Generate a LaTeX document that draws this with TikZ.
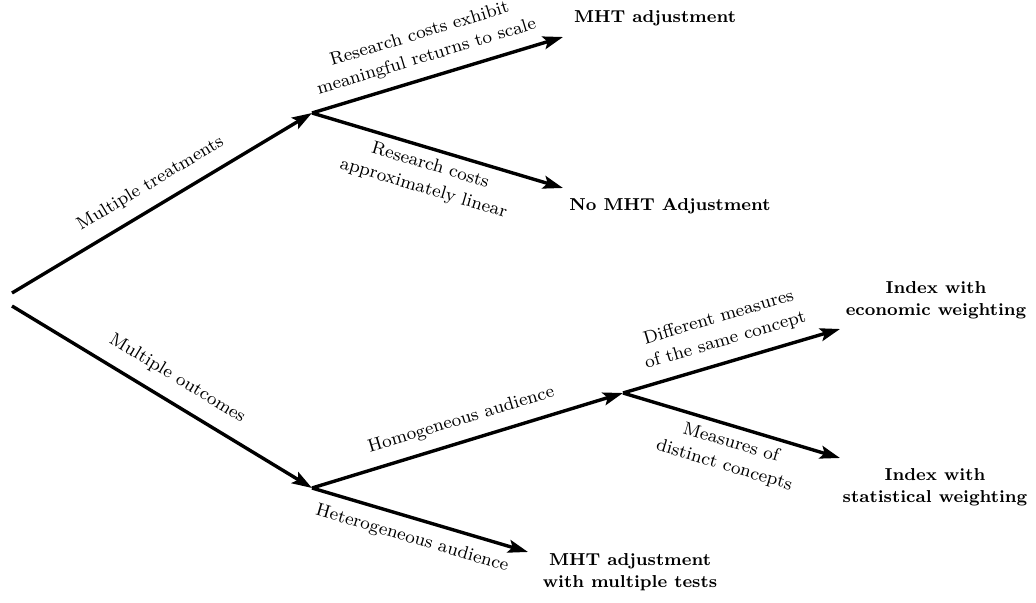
\documentclass[tikz,border=0pt]{standalone}
\usetikzlibrary{arrows.meta}
\begin{document}
\begin{tikzpicture}[x=0.5pt,y=-0.5pt,
  branch/.style={line width=1.7pt, -{Stealth[length=10pt,width=6.5pt,inset=2pt]}},
  lbl/.style={font=\fontsize{8}{10.5}\selectfont, align=center, inner sep=2pt, scale=1.13},
  res/.style={font=\fontsize{8}{10.2}\selectfont\bfseries, align=center, inner sep=0pt, scale=1.08}
]
\useasboundingbox (0,0) rectangle (1036,603);
% branch points
\coordinate (r1) at (12,293);
\coordinate (r2) at (12,306);
\coordinate (A) at (312,113);
\coordinate (B) at (312,488);
\coordinate (C) at (623,393);
% arrow tips
\coordinate (t1) at (563,37);
\coordinate (t2) at (563,188);
\coordinate (t3) at (528,552);
\coordinate (t4) at (840,329);
\coordinate (t5) at (840,458);
% results
\node[res] (e1) at (655,18) {MHT adjustment};
\node[res] (e2) at (670,206) {No MHT Adjustment};
\node[res] (e3) at (936,300) {Index with\\economic weighting};
\node[res] (e4) at (935,487) {Index with\\statistical weighting};
\node[res] (e5) at (630,572) {MHT adjustment\\with multiple tests};
% connectors
\draw[branch] (r1) -- node[lbl, sloped, above=3.5pt, pos=0.50] {Multiple treatments} (A);
\draw[branch] (r2) -- node[lbl, sloped, above=4pt, pos=0.51] {Multiple outcomes} (B);
\draw[branch] (A) -- node[lbl, sloped, above=2.5pt, pos=0.48] {Research costs exhibit\\meaningful returns to scale} (t1);
\draw[branch] (A) -- node[lbl, sloped, below=1pt, pos=0.49] {Research costs\\approximately linear} (t2);
\draw[branch] (B) -- node[lbl, sloped, above=3pt, pos=0.50] {Homogeneous audience} (C);
\draw[branch] (B) -- node[lbl, sloped, below=2.5pt, pos=0.49] {Heterogeneous audience} (t3);
\draw[branch] (C) -- node[lbl, sloped, above=3pt, pos=0.50] {Different measures\\of the same concept} (t4);
\draw[branch] (C) -- node[lbl, sloped, below=1pt, pos=0.52] {Measures of\\distinct concepts} (t5);
\end{tikzpicture}
\end{document}
